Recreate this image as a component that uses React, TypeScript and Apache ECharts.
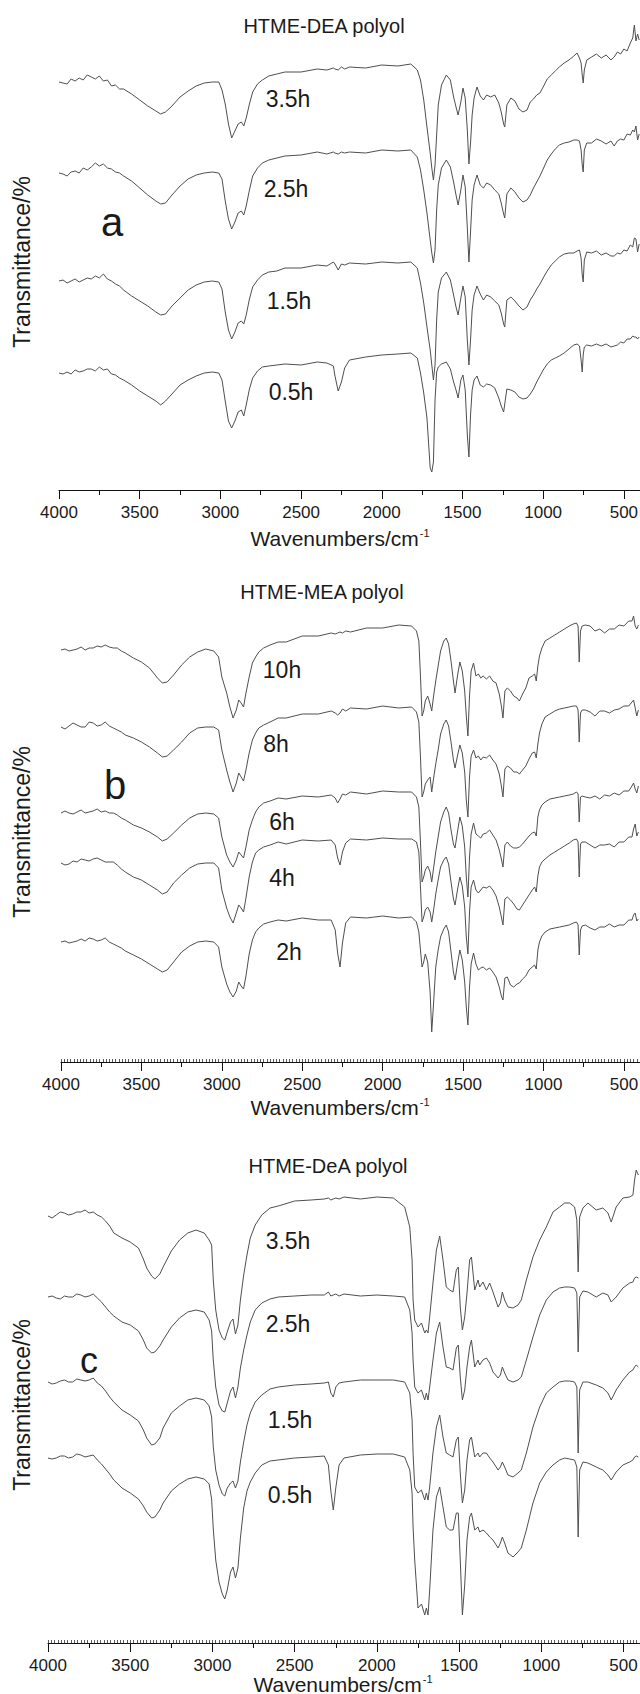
import React, { useEffect, useRef } from "react";
import * as echarts from "echarts";

// ---------- Panel a: HTME-DEA polyol ----------
const waveA = [
  4000, 3975, 3950, 3925, 3900, 3875, 3850, 3825, 3800, 3775, 3750, 3725, 3700, 3675, 3650, 3625, 3600, 3550,
  3500, 3450, 3400, 3370, 3340, 3300, 3250, 3200, 3150, 3100,
  3050, 3010, 2990, 2970, 2950, 2930, 2910, 2890, 2870, 2855,
  2840, 2820, 2800, 2770, 2740, 2700, 2650, 2600, 2500, 2400,
  2340, 2300, 2290, 2270, 2250, 2230, 2200, 2100, 2000, 1900,
  1820, 1780, 1760, 1740, 1720, 1700, 1690, 1680, 1670, 1660,
  1650, 1630, 1600, 1575, 1555, 1540, 1527, 1510, 1497, 1483,
  1470, 1460, 1450, 1440, 1428, 1410, 1390, 1370, 1350, 1325,
  1300, 1275, 1260, 1245, 1238, 1225, 1200, 1175, 1150, 1125,
  1100, 1080, 1060, 1040, 1020, 1000, 975, 950, 925, 900,
  870, 840, 810, 790, 775, 765, 758, 752, 745, 730,
  700, 670, 640, 610, 580, 560, 540, 520, 500, 480,
  460, 445, 435, 425, 415, 405,
];
const a35h = [
  408, 407, 406, 411, 409, 412, 410, 415, 413, 411, 414, 409, 410, 404, 405, 401, 401, 396,
  390, 384, 379, 376, 378, 384, 393, 399, 404, 407,
  408, 408, 400, 386, 366, 352, 359, 366, 368, 364,
  372, 386, 398, 406, 410, 414, 416, 418, 418, 421,
  420, 422, 421, 420, 423, 421, 423, 422, 425, 424,
  426, 420, 410, 390, 363, 337, 322, 310, 325, 355,
  385, 405, 415, 410, 393, 383, 375, 388, 402, 392,
  360, 326, 347, 375, 392, 403, 394, 390, 395, 393,
  395, 387, 378, 366, 363, 385, 392, 389, 381, 378,
  380, 388, 391, 395, 397, 403, 411, 415, 419, 423,
  427, 430, 434, 437, 432, 427, 415, 407, 420, 430,
  433, 436, 432, 435, 430, 433, 438, 436, 441, 439,
  447, 452, 465, 449, 456, 450,
];
const a25h = [
  317, 316, 314, 318, 319, 317, 322, 320, 323, 327, 324, 326, 322, 321, 318, 317, 314, 309,
  302, 295, 289, 286, 287, 295, 304, 311, 315, 317,
  318, 317, 311, 289, 271, 261, 268, 277, 279, 275,
  284, 300, 314, 322, 327, 330, 332, 334, 335, 338,
  336, 338, 337, 336, 338, 337, 338, 337, 340, 339,
  340, 333, 320, 300, 277, 250, 237, 227, 240, 280,
  305, 322, 330, 323, 308, 295, 285, 300, 315, 303,
  262, 228, 258, 290, 305, 315, 305, 302, 307, 305,
  300, 296, 287, 276, 272, 296, 302, 298, 292, 288,
  290, 295, 302, 308, 314, 321, 330, 336, 341, 345,
  347, 348, 350, 350, 349, 340, 325, 318, 340, 347,
  347, 351, 349, 346, 349, 344, 349, 351, 350, 356,
  355, 360, 358, 364, 350, 356,
];
const a15h = [
  209, 210, 207, 209, 211, 208, 210, 212, 211, 214, 212, 216, 211, 209, 206, 204, 200, 194,
  189, 184, 178, 175, 176, 184, 192, 200, 205, 208,
  209, 208, 201, 178, 160, 151, 158, 167, 169, 166,
  175, 191, 203, 210, 215, 218, 219, 222, 222, 225,
  224, 228, 226, 220, 226, 225, 227, 226, 228, 227,
  228, 222, 207, 187, 163, 140, 125, 110, 125, 170,
  198, 212, 218, 210, 195, 183, 175, 192, 204, 193,
  150, 125, 150, 180, 195, 204, 196, 190, 195, 193,
  189, 185, 177, 166, 163, 190, 193, 189, 184, 180,
  183, 190, 195, 201, 206, 212, 219, 225, 229, 233,
  236, 237, 237, 239, 240, 232, 215, 208, 230, 238,
  237, 239, 235, 237, 234, 234, 237, 236, 240, 239,
  245, 243, 252, 251, 238, 246,
];
const a05h = [
  117, 116, 118, 116, 120, 118, 119, 121, 121, 119, 123, 120, 121, 116, 115, 112, 110, 105,
  99, 94, 89, 85, 89, 96, 105, 110, 114, 117,
  118, 117, 110, 89, 69, 62, 69, 78, 80, 74,
  85, 101, 112, 119, 123, 124, 125, 126, 125, 128,
  127, 124, 114, 99, 108, 122, 130, 133, 135, 136,
  137, 132, 117, 97, 72, 22, 18, 28, 90, 118,
  123, 126, 128, 121, 108, 100, 92, 110, 115, 100,
  55, 33, 75, 100, 110, 114, 105, 103, 106, 105,
  102, 92, 84, 78, 86, 101, 100, 98, 93, 91,
  92, 96, 101, 108, 114, 120, 126, 130, 132, 134,
  137, 141, 145, 146, 144, 130, 118, 135, 143, 145,
  144, 146, 144, 146, 143, 144, 145, 148, 147, 151,
  151, 154, 153, 153, 151, 153,
];

// ---------- Panel b: HTME-MEA polyol ----------
const waveB = [
  4000, 3975, 3950, 3925, 3900, 3875, 3850, 3825, 3800, 3775, 3750, 3725, 3700, 3675, 3650, 3625, 3600, 3550,
  3500, 3450, 3400, 3370, 3340, 3300, 3250, 3200, 3150, 3100,
  3050, 3020, 3000, 2970, 2950, 2930, 2910, 2895, 2880, 2865,
  2850, 2830, 2810, 2790, 2770, 2740, 2700, 2650, 2600, 2500,
  2400, 2320, 2295, 2280, 2265, 2250, 2230, 2200, 2100, 2000,
  1900, 1820, 1790, 1775, 1765, 1755, 1745, 1735, 1720, 1705,
  1695, 1685, 1670, 1655, 1640, 1620, 1605, 1590, 1575, 1560,
  1550, 1535, 1520, 1505, 1490, 1480, 1470, 1460, 1450, 1435,
  1420, 1405, 1390, 1375, 1355, 1335, 1315, 1295, 1275, 1262,
  1252, 1240, 1225, 1205, 1185, 1165, 1150, 1130, 1110, 1090,
  1070, 1055, 1045, 1035, 1025, 1010, 990, 960, 930, 900,
  870, 840, 815, 795, 785, 778, 770, 760, 740, 710,
  680, 650, 620, 590, 560, 530, 500, 470, 450, 440,
  430, 420, 410,
];
const b10h = [
  412, 413, 411, 412, 413, 415, 412, 414, 414, 416, 415, 417, 415, 414, 414, 411, 409, 404,
  400, 394, 384, 379, 380, 387, 397, 405, 410, 413,
  411, 405, 385, 369, 355, 344, 352, 362, 359, 355,
  369, 385, 399, 405, 410, 414, 417, 420, 420, 426,
  426, 429, 428, 429, 430, 429, 431, 430, 434, 434,
  437, 436, 431, 421, 386, 346, 351, 361, 366, 358,
  351, 364, 381, 396, 411, 421, 424, 418, 401, 381,
  369, 386, 400, 391, 371, 346, 326, 366, 391, 399,
  386, 388, 384, 386, 383, 386, 381, 379, 368, 356,
  344, 371, 374, 371, 366, 364, 361, 368, 374, 384,
  386, 388, 381, 396, 406, 414, 421, 424, 427, 430,
  433, 436, 438, 439, 436, 400, 431, 436, 437, 436,
  431, 433, 429, 433, 433, 437, 436, 441, 441, 446,
  436, 433, 437,
];
const b8h = [
  335, 333, 336, 339, 337, 335, 335, 340, 339, 336, 337, 340, 336, 334, 332, 330, 327, 324,
  320, 315, 309, 305, 306, 312, 320, 329, 334, 335,
  335, 332, 312, 292, 280, 270, 279, 289, 285, 281,
  292, 309, 322, 329, 334, 337, 340, 344, 344, 348,
  348, 351, 349, 347, 349, 353, 351, 354, 353, 356,
  354, 355, 350, 340, 305, 265, 270, 278, 282, 285,
  270, 282, 298, 312, 328, 338, 342, 336, 320, 302,
  294, 306, 317, 309, 290, 262, 245, 285, 306, 312,
  304, 306, 302, 305, 304, 307, 302, 298, 288, 276,
  265, 293, 296, 294, 290, 290, 288, 292, 296, 303,
  309, 310, 304, 318, 329, 338, 345, 348, 351, 353,
  354, 355, 356, 356, 352, 320, 349, 352, 352, 350,
  346, 351, 351, 349, 352, 353, 356, 356, 360, 362,
  354, 346, 352,
];
const b6h = [
  249, 251, 249, 248, 250, 252, 249, 250, 251, 253, 250, 251, 249, 249, 247, 244, 242, 237,
  234, 230, 225, 221, 223, 229, 237, 244, 248, 249,
  248, 244, 225, 207, 200, 195, 202, 210, 207, 204,
  215, 232, 242, 250, 255, 259, 261, 264, 263, 266,
  265, 267, 264, 259, 263, 268, 267, 270, 268, 271,
  270, 270, 265, 255, 220, 180, 185, 192, 196, 190,
  180, 192, 210, 225, 240, 250, 255, 249, 232, 218,
  214, 230, 245, 236, 215, 185, 165, 205, 228, 239,
  228, 226, 224, 228, 229, 232, 227, 222, 212, 203,
  195, 217, 220, 216, 214, 214, 215, 218, 222, 226,
  229, 230, 226, 245, 252, 257, 260, 263, 264, 265,
  266, 267, 268, 270, 268, 240, 265, 266, 265, 264,
  266, 263, 267, 266, 269, 267, 271, 271, 276, 279,
  273, 269, 276,
];
const b4h = [
  199, 197, 198, 201, 200, 203, 202, 201, 203, 204, 202, 200, 200, 200, 197, 193, 190, 185,
  182, 177, 172, 168, 170, 179, 187, 194, 198, 199,
  199, 194, 172, 154, 145, 139, 149, 157, 154, 150,
  164, 185, 200, 209, 212, 215, 217, 220, 218, 222,
  221, 222, 217, 204, 197, 210, 219, 223, 222, 224,
  223, 223, 220, 210, 175, 140, 145, 152, 155, 150,
  140, 150, 168, 182, 195, 202, 205, 198, 180, 163,
  157, 172, 185, 176, 155, 125, 108, 150, 175, 182,
  172, 169, 172, 175, 174, 176, 172, 166, 155, 145,
  137, 163, 165, 162, 158, 153, 152, 157, 162, 167,
  172, 175, 170, 186, 195, 200, 203, 207, 210, 213,
  216, 219, 222, 223, 220, 185, 218, 220, 220, 217,
  214, 217, 217, 218, 215, 220, 220, 225, 225, 233,
  238, 226, 230,
];
const b2h = [
  120, 121, 119, 120, 121, 123, 121, 124, 123, 121, 122, 124, 120, 118, 116, 114, 111, 107,
  103, 98, 93, 90, 92, 100, 110, 116, 120, 121,
  120, 115, 95, 78, 70, 65, 71, 80, 76, 73,
  86, 108, 122, 130, 134, 138, 140, 142, 141, 144,
  142, 142, 132, 109, 95, 119, 139, 145, 144, 146,
  144, 145, 140, 130, 112, 95, 100, 108, 100, 70,
  30, 55, 95, 112, 125, 133, 137, 130, 110, 90,
  82, 98, 112, 102, 80, 55, 37, 75, 98, 109,
  98, 92, 94, 95, 92, 94, 90, 85, 75, 66,
  62, 84, 85, 77, 75, 78, 79, 83, 86, 92,
  95, 97, 93, 112, 120, 126, 130, 133, 134, 135,
  136, 137, 139, 140, 137, 107, 132, 136, 137, 134,
  132, 135, 135, 138, 135, 137, 137, 142, 142, 147,
  149, 141, 143,
];

// ---------- Panel c: HTME-DeA polyol ----------
const waveC = [
  4000, 3975, 3950, 3925, 3900, 3875, 3850, 3825, 3800, 3775, 3750, 3725, 3700, 3675, 3650, 3625, 3600, 3550,
  3500, 3450, 3420, 3400, 3370, 3350, 3320, 3300, 3250, 3200,
  3150, 3100, 3050, 3020, 3005, 2995, 2980, 2960, 2940, 2925,
  2910, 2890, 2875, 2860, 2845, 2830, 2810, 2790, 2770, 2740,
  2700, 2650, 2600, 2500, 2400, 2320, 2295, 2280, 2265, 2250,
  2230, 2200, 2100, 2000, 1900, 1831, 1800, 1786, 1780, 1770,
  1750, 1729, 1709, 1699, 1689, 1679, 1659, 1638, 1618, 1598,
  1578, 1557, 1537, 1517, 1505, 1493, 1480, 1466, 1452, 1436,
  1425, 1405, 1385, 1375, 1355, 1334, 1314, 1294, 1263, 1249,
  1237, 1223, 1203, 1172, 1142, 1122, 1091, 1051, 1010, 970,
  929, 889, 858, 828, 798, 784, 776, 767, 747, 717,
  666, 626, 595, 575, 545, 504, 463, 443, 433, 423,
  410,
];
const c35h = [
  414, 412, 415, 418, 417, 415, 416, 418, 418, 420, 417, 418, 415, 413, 409, 404, 397, 392,
  388, 382, 371, 362, 354, 351, 356, 363, 379, 390,
  397, 400, 397, 390, 385, 350, 320, 300, 292, 290,
  298, 308, 311, 296, 305, 330, 355, 375, 392, 405,
  415, 422, 424, 429, 430, 431, 432, 430, 431, 432,
  431, 433, 431, 433, 432, 423, 403, 370, 330, 310,
  303, 307, 297, 300, 297, 313, 347, 380, 394, 370,
  343, 340, 338, 360, 363, 323, 300, 313, 337, 370,
  373, 340, 350, 343, 348, 340, 347, 338, 323, 327,
  338, 330, 323, 322, 325, 330, 350, 373, 390, 403,
  418, 423, 427, 427, 423, 410, 358, 413, 422, 427,
  420, 422, 417, 408, 423, 432, 433, 435, 450, 460,
  455,
];
const c25h = [
  333, 334, 332, 331, 334, 333, 333, 336, 335, 333, 334, 336, 332, 328, 323, 318, 314, 308,
  305, 299, 290, 282, 277, 278, 284, 290, 303, 312,
  318, 320, 318, 310, 299, 270, 243, 225, 219, 218,
  227, 239, 243, 232, 243, 262, 280, 295, 308, 320,
  327, 331, 333, 334, 335, 335, 338, 334, 335, 336,
  334, 336, 334, 335, 334, 333, 320, 297, 270, 243,
  237, 240, 230, 237, 230, 243, 270, 297, 308, 283,
  263, 262, 260, 282, 285, 253, 230, 240, 263, 283,
  290, 263, 270, 265, 270, 272, 267, 258, 252, 255,
  263, 257, 250, 248, 250, 253, 270, 293, 315, 330,
  338, 342, 343, 343, 342, 337, 278, 333, 339, 338,
  333, 337, 335, 328, 333, 342, 347, 348, 352, 353,
  352,
];
const c15h = [
  248, 246, 247, 249, 250, 248, 248, 251, 250, 249, 250, 252, 247, 244, 239, 233, 228, 220,
  215, 209, 200, 192, 185, 186, 192, 202, 217, 224,
  230, 232, 230, 224, 213, 183, 160, 145, 136, 134,
  142, 147, 149, 142, 149, 168, 188, 205, 217, 228,
  235, 241, 243, 245, 246, 247, 248, 237, 233, 243,
  247, 248, 250, 250, 250, 248, 237, 210, 177, 143,
  137, 140, 130, 137, 130, 143, 177, 203, 215, 193,
  177, 175, 173, 190, 193, 157, 127, 140, 170, 190,
  193, 173, 177, 173, 177, 177, 172, 168, 160, 163,
  168, 163, 155, 153, 157, 160, 177, 203, 223, 237,
  243, 248, 249, 249, 248, 243, 177, 240, 248, 248,
  245, 242, 237, 230, 240, 250, 258, 260, 263, 265,
  263,
];
const c05h = [
  172, 171, 172, 174, 174, 172, 173, 176, 175, 173, 174, 175, 170, 166, 161, 156, 150, 142,
  137, 131, 124, 118, 112, 113, 120, 127, 139, 146,
  151, 153, 151, 146, 131, 101, 70, 48, 36, 31,
  40, 58, 63, 52, 62, 92, 122, 139, 148, 157,
  165, 169, 170, 172, 173, 174, 165, 139, 120, 142,
  165, 172, 175, 176, 176, 173, 160, 137, 103, 70,
  22, 26, 15, 22, 15, 40, 100, 133, 143, 123,
  103, 100, 100, 117, 117, 70, 15, 45, 90, 113,
  117, 100, 103, 98, 100, 97, 93, 90, 82, 87,
  93, 87, 77, 73, 78, 82, 100, 127, 147, 158,
  165, 170, 172, 171, 170, 163, 93, 160, 168, 167,
  163, 160, 155, 150, 158, 165, 168, 170, 173, 174,
  173,
];

// ---------- Axis ticks / labels ----------
const majorTicks = [4000, 3500, 3000, 2500, 2000, 1500, 1000, 500];
const halfTicks = [3750, 3250, 2750, 2250, 1750, 1250, 750];
const minorTicks = Array.from({ length: 181 }, (_, i) => 4000 - i * 20);

const titles = ["HTME-DEA polyol", "HTME-MEA polyol", "HTME-DeA polyol"];
const letters = ["a", "b", "c"];
const labelsA = ["3.5h", "2.5h", "1.5h", "0.5h"];
const labelsB = ["10h", "8h", "6h", "4h", "2h"];
const labelsC = ["3.5h", "2.5h", "1.5h", "0.5h"];

const FONT = '"Liberation Sans", Arial, Helvetica, sans-serif';
const INK = "#1a1a1a";
const CURVE = "#4f4f4f";

const panels = [
  {
    left: 59, top: 20, height: 470, ymin: 0, ymax: 470, wave: waveA,
    curves: [a35h, a25h, a15h, a05h], minor: false,
    title: { x: 324, y: 26 }, letter: { x: 112, y: 222, size: 40 },
    ylab: 262, xtitle: { x: 340, y: 538 },
    labels: labelsA, labelPos: [[288, 99], [286, 189], [289, 301], [291, 392]],
  },
  {
    left: 61, top: 592, height: 470, ymin: 0, ymax: 470, wave: waveB,
    curves: [b10h, b8h, b6h, b4h, b2h], minor: true,
    title: { x: 322, y: 592 }, letter: { x: 115, y: 785, size: 40 },
    ylab: 832, xtitle: { x: 340, y: 1107 },
    labels: labelsB, labelPos: [[282, 670], [276, 744], [282, 822], [282, 878], [289, 952]],
  },
  {
    left: 48, top: 1150, height: 493, ymin: -13, ymax: 480, wave: waveC,
    curves: [c35h, c25h, c15h, c05h], minor: true,
    title: { x: 328, y: 1166 }, letter: { x: 89, y: 1360, size: 36 },
    ylab: 1405, xtitle: { x: 343, y: 1684 },
    labels: labelsC, labelPos: [[288, 1241], [288, 1324], [290, 1420], [290, 1495]],
  },
];

function text(t: string, x: number, y: number, size: number, rotation = 0) {
  return {
    type: "text", x, y, rotation, silent: true, z: 10,
    style: {
      text: t, fill: INK, fontSize: size, fontFamily: FONT,
      align: "center", verticalAlign: "middle",
    },
  };
}

function buildOption() {
  const grid: any[] = [];
  const xAxis: any[] = [];
  const yAxis: any[] = [];
  const series: any[] = [];
  const graphic: any[] = [];

  panels.forEach((p, pi) => {
    const layers = p.minor ? ["main", "half", "minor"] : ["main", "half"];
    layers.forEach((layer) => {
      const gi = grid.length;
      grid.push({
        left: p.left, top: p.top, width: 640 - p.left, height: p.height,
        containLabel: false, outerBoundsMode: "none",
      });
      const base: any = {
        gridIndex: gi, type: "value", min: 400, max: 4000, inverse: true,
        position: "bottom", splitLine: { show: false },
        axisLine: { show: false, onZero: false },
        axisLabel: { show: false },
        minorTick: { show: false },
      };
      if (layer === "main") {
        base.axisLine = { show: true, onZero: false, lineStyle: { color: "#111", width: 1 } };
        base.axisTick = { show: true, customValues: majorTicks, length: 9, lineStyle: { color: "#111", width: 1 } };
        base.axisLabel = {
          show: true, customValues: majorTicks, fontSize: 17, fontFamily: FONT,
          color: INK, margin: 14, formatter: (v: number) => String(v),
        };
      } else if (layer === "half") {
        base.axisTick = { show: true, customValues: halfTicks, length: 5, lineStyle: { color: "#111", width: 1 } };
      } else {
        base.axisTick = { show: true, inside: true, customValues: minorTicks, length: 3, lineStyle: { color: "#333", width: 0.8 } };
      }
      xAxis.push(base);
      yAxis.push({ gridIndex: gi, type: "value", min: p.ymin, max: p.ymax, show: false });
      if (layer === "main") {
        p.curves.forEach((c) => {
          series.push({
            type: "line", xAxisIndex: gi, yAxisIndex: gi,
            data: p.wave.map((w, i) => [w, c[i]]),
            showSymbol: false, symbol: "none", clip: false, silent: true,
            lineStyle: { color: CURVE, width: 1 },
          });
        });
      }
    });

    graphic.push(text(titles[pi], p.title.x, p.title.y, 20));
    graphic.push(text(letters[pi], p.letter.x, p.letter.y, p.letter.size));
    graphic.push(text("Transmittance/%", 22, p.ylab, 23, Math.PI / 2));
    graphic.push({
      type: "text", x: p.xtitle.x, y: p.xtitle.y, silent: true, z: 10,
      style: {
        text: "Wavenumbers/cm{sup|-1}", fill: INK, fontSize: 21, fontFamily: FONT,
        align: "center", verticalAlign: "middle",
        rich: { sup: { fontSize: 11, fontFamily: FONT, fill: INK, verticalAlign: "top", padding: [0, 0, 0, 1] } },
      },
    });
    p.labels.forEach((l, li) => {
      graphic.push(text(l, p.labelPos[li][0], p.labelPos[li][1], 23));
    });
  });

  return {
    animation: false,
    backgroundColor: "#ffffff",
    grid, xAxis, yAxis, series, graphic,
  };
}

export default function App() {
  const ref = useRef<HTMLDivElement>(null);
  useEffect(() => {
    if (!ref.current) return;
    const chart = echarts.init(ref.current, undefined, { renderer: "svg" });
    chart.setOption(buildOption() as any);
    return () => chart.dispose();
  }, []);
  return (
    <div
      ref={ref}
      style={{ position: "absolute", left: 0, top: 0, width: 640, height: 1694, background: "#fff" }}
    />
  );
}
